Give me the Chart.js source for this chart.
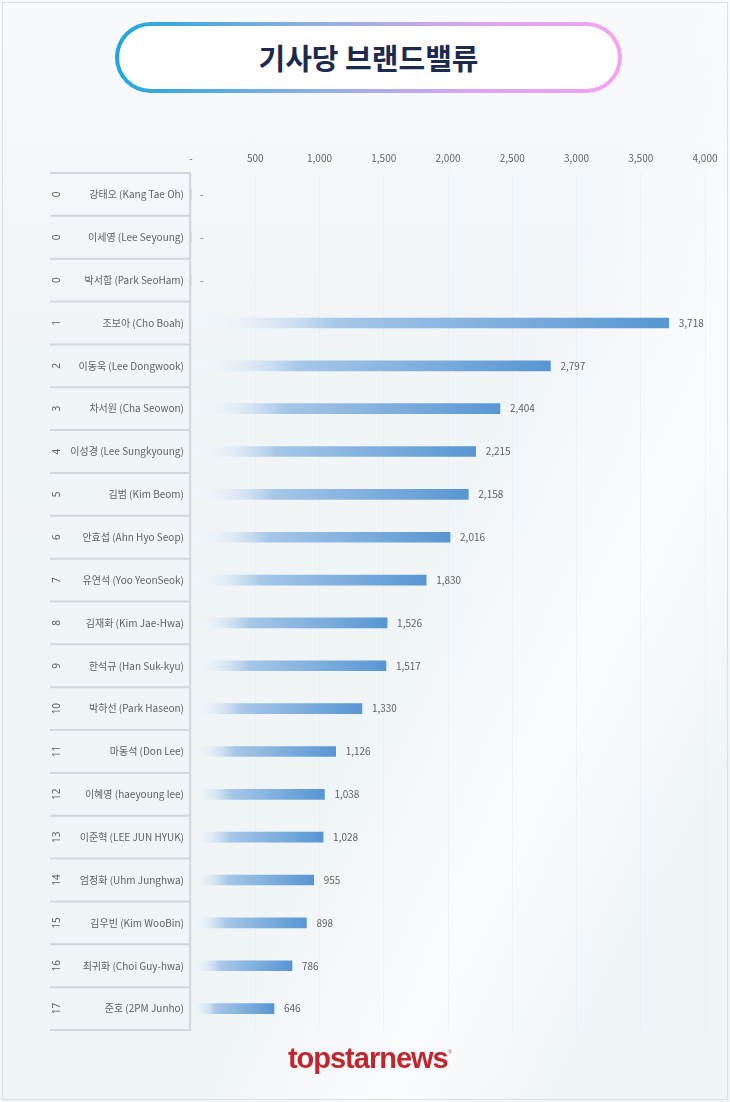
<!DOCTYPE html>
<html>
<head>
<meta charset="utf-8">
<script src="https://cdn.jsdelivr.net/npm/chart.js@4"></script>
<style>
  html, body { margin: 0; padding: 0; }
  body {
    width: 730px; height: 1102px; position: relative; overflow: hidden;
    font-family: "Noto Sans CJK KR", "Noto Sans", sans-serif;
    background:
      linear-gradient(115deg, rgba(255,255,255,0) 55%, rgba(255,255,255,0.75) 72%, rgba(255,255,255,0) 88%),
      linear-gradient(180deg, #f8fafc 0%, #f1f5f8 30%, #eff4f7 100%);
  }
  #frame {
    position: absolute; left: 2px; top: 2px; right: 2px; bottom: 2px;
    border: 1px solid #dcdfe2; box-sizing: border-box;
  }
  #title {
    position: absolute; left: 115px; top: 22px; width: 507px; height: 71px;
    box-sizing: border-box; border: 4px solid transparent; border-radius: 36px;
    background: linear-gradient(#fff, #fff) padding-box,
                linear-gradient(90deg, #1fa6e0, #8fb0e6 40%, #d9a6ef 70%, #f4a3f0) border-box;
    text-align: center; line-height: 63px;
    font-size: 29px; font-weight: bold; color: #1b2a4e;
  }
  #logo {
    position: absolute; left: 0; width: 740px; top: 1042px; text-align: center;
    font-family: "Liberation Sans", Arial, sans-serif; font-weight: bold;
    font-size: 29px; letter-spacing: -1px; color: #c3252d;
  }
  #logo sup { font-size: 6px; letter-spacing: 0; vertical-align: 14px; color: #c98a8d; }
  #chartBox { position: absolute; left: 0; top: 0; width: 730px; height: 1102px; }
</style>
</head>
<body>
<div id="frame"></div>
<div id="title">기사당 브랜드밸류</div>
<div id="chartBox"><canvas id="brandChart" width="730" height="1102"></canvas></div>
<div id="logo">topstarnews<sup>®</sup></div>
<script>
const ranks = ['0', '0', '0', '1', '2', '3', '4', '5', '6', '7', '8', '9', '10', '11', '12', '13', '14', '15', '16', '17'];
const names = [
  '강태오 (Kang Tae Oh)', '이세영 (Lee Seyoung)', '박서함 (Park SeoHam)', '조보아 (Cho Boah)',
  '이동욱 (Lee Dongwook)', '차서원 (Cha Seowon)', '이성경 (Lee Sungkyoung)', '김범 (Kim Beom)',
  '안효섭 (Ahn Hyo Seop)', '유연석 (Yoo YeonSeok)', '김재화 (Kim Jae-Hwa)', '한석규 (Han Suk-kyu)',
  '박하선 (Park Haseon)', '마동석 (Don Lee)', '이혜영 (haeyoung lee)', '이준혁 (LEE JUN HYUK)',
  '엄정화 (Uhm Junghwa)', '김우빈 (Kim WooBin)', '최귀화 (Choi Guy-hwa)', '준호 (2PM Junho)'
];
const values = [0, 0, 0, 3718, 2797, 2404, 2215, 2158, 2016, 1830, 1526, 1517, 1330, 1126, 1038, 1028, 955, 898, 786, 646];
const xTicks = [0, 500, 1000, 1500, 2000, 2500, 3000, 3500, 4000];

const textColor = '#626262';
const fontFamily = '"Noto Sans CJK KR", "Noto Sans", sans-serif';
const smallFont = { family: fontFamily, size: 10 };

function fmt(v) {
  return v === 0 ? '-' : v.toLocaleString('en-US');
}

// rank column, table lines and value labels
const tablePlugin = {
  id: 'tablePlugin',
  afterDraw(chart) {
    const ctx = chart.ctx;
    const y = chart.scales.y;
    const x = chart.scales.x;
    const area = chart.chartArea;
    const step = (area.bottom - area.top) / names.length;
    ctx.save();
    ctx.strokeStyle = '#d3d6da';
    ctx.lineWidth = 2;
    for (let i = 0; i <= names.length; i++) {
      const yy = area.top + i * step;
      ctx.beginPath();
      ctx.moveTo(50, yy);
      ctx.lineTo(area.left, yy);
      ctx.stroke();
    }
    ctx.beginPath();
    ctx.moveTo(area.left - 1, area.top - 1);
    ctx.lineTo(area.left - 1, area.bottom + 1);
    ctx.stroke();

    ctx.fillStyle = textColor;
    ctx.font = '10px "Noto Sans", sans-serif';
    ctx.textAlign = 'center';
    ctx.textBaseline = 'middle';
    ranks.forEach((r, i) => {
      const yy = y.getPixelForValue(i);
      ctx.save();
      ctx.translate(57, yy);
      ctx.rotate(-Math.PI / 2);
      ctx.fillText(r, 0, 0);
      ctx.restore();
    });

    ctx.font = '10px ' + fontFamily;
    ctx.textAlign = 'left';
    values.forEach((v, i) => {
      const yy = y.getPixelForValue(i);
      const xx = x.getPixelForValue(v);
      ctx.fillText(fmt(v), xx + (v === 0 ? 9 : 10), yy);
    });
    ctx.restore();
  }
};

const ctx = document.getElementById('brandChart').getContext('2d');
new Chart(ctx, {
  type: 'bar',
  data: {
    labels: names,
    datasets: [{
      data: values,
      barThickness: 10,
      borderWidth: 0,
      backgroundColor: function(c) {
        const area = c.chart.chartArea;
        if (!area) return '#5b9bd5';
        const v = values[c.dataIndex] || 1;
        const x0 = area.left;
        const x1 = c.chart.scales.x.getPixelForValue(v);
        const g = c.chart.ctx.createLinearGradient(x0, 0, Math.max(x1, x0 + 1), 0);
        g.addColorStop(0, 'rgba(255,255,255,0.1)');
        g.addColorStop(0.3, '#a6c7e8');
        g.addColorStop(1, '#5796d3');
        return g;
      }
    }]
  },
  options: {
    indexAxis: 'y',
    responsive: false,
    animation: false,
    devicePixelRatio: 1,
    layout: { padding: { top: 140, right: 25, bottom: 72, left: 0 } },
    plugins: { legend: { display: false }, tooltip: { enabled: false } },
    scales: {
      x: {
        position: 'top',
        min: 0,
        max: 4000,
        afterBuildTicks(scale) { scale.ticks = xTicks.map(v => ({ value: v })); },
        afterFit(scale) { scale.height = 33; },
        ticks: { color: textColor, font: smallFont, padding: 9, callback: v => fmt(v) },
        grid: { color: 'rgba(220,228,234,0.3)', lineWidth: 1, drawTicks: false },
        border: { display: false }
      },
      y: {
        afterFit(scale) { scale.width = 191; },
        ticks: { color: textColor, font: smallFont, padding: 7 },
        grid: { display: false, drawTicks: false },
        border: { display: false }
      }
    }
  },
  plugins: [tablePlugin]
});
</script>
</body>
</html>
